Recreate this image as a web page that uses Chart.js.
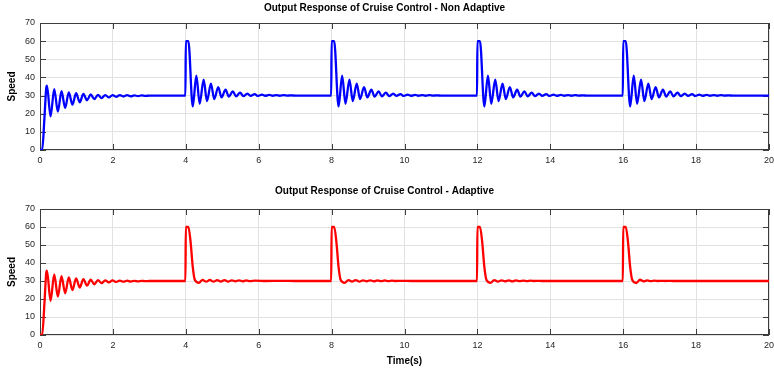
<!DOCTYPE html>
<html>
<head>
<meta charset="utf-8">
<title>Output Response of Cruise Control</title>
<script src="https://cdn.jsdelivr.net/npm/chart.js@4.4.0/dist/chart.umd.min.js"></script>
<style>
  body { margin: 0; background: #fff; }
  #wrap { position: relative; width: 774px; height: 372px; }
  canvas { position: absolute; left: 0; }
  #topChart { top: 0; }
  #bottomChart { top: 180px; }
</style>
</head>
<body>
<div id="wrap">
  <canvas id="topChart" width="774" height="175"></canvas>
  <canvas id="bottomChart" width="774" height="192"></canvas>
</div>
<script>
// --- data (time in s, speed) ---
const pulseStarts = [4, 8, 12, 16];

// start-up transient, same time grid for both responses
const startTime = [0, 0.06, 0.12, 0.17, 0.19, 0.29, 0.39, 0.49, 0.59, 0.69, 0.79, 0.89, 0.99, 1.09, 1.19, 1.29, 1.39, 1.49,
  1.59, 1.69, 1.79, 1.89, 1.99, 2.09, 2.19, 2.29, 2.39, 2.49, 2.59, 2.69, 2.79, 2.89, 3.0, 3.3, 3.6, 3.9];
const nonAdaptiveStart = [0, 0, 17, 34, 35.5, 18.5, 33.6, 21.2, 32.4, 23.2, 31.8, 25, 31.3, 26.3, 30.9, 27.4, 30.6, 28,
  30.4, 28.6, 30.3, 29, 30.3, 29.3, 30.2, 29.5, 30.2, 29.6, 30.1, 29.7, 30.1, 29.8, 30, 30, 30, 30];
const adaptiveStart = [0, 0, 17, 34.3, 35.8, 19, 33.6, 21.4, 32.7, 23.2, 32, 25, 31.4, 26.4, 31, 27.4, 30.7, 28.2,
  30.5, 28.8, 30.4, 29.2, 30.3, 29.5, 30.2, 29.6, 30.2, 29.7, 30.1, 29.8, 30.1, 29.9, 30, 30, 30, 30];

// response after each disturbance (time relative to the pulse)
const nonAdaptivePulseTime = [-0.01, 0, 0.07, 0.19, 0.29, 0.38, 0.49, 0.58, 0.69, 0.78, 0.89, 0.98, 1.09, 1.18, 1.29, 1.38,
  1.49, 1.58, 1.69, 1.78, 1.89, 1.98, 2.09, 2.18, 2.29, 2.38, 2.49, 2.58, 2.69, 2.78, 2.89, 3.0, 3.5, 3.9];
const nonAdaptivePulse = [30, 60, 60, 24, 41, 25.5, 38.8, 27, 36.6, 28, 34.7, 29, 33.2, 29.4, 32.3, 29.6,
  31.6, 29.7, 31.1, 29.8, 30.8, 29.8, 30.5, 29.9, 30.4, 29.9, 30.3, 29.9, 30.2, 30, 30.1, 30, 30, 30];

const adaptivePulseTime = [-0.01, 0, 0.07, 0.13, 0.19, 0.25, 0.36, 0.46, 0.56, 0.66, 0.76, 0.86, 0.96, 1.06, 1.16, 1.26,
  1.36, 1.46, 1.56, 1.66, 1.76, 1.9, 2.2, 2.6, 3.0, 3.4, 3.9];
const adaptivePulse4 = [30, 60, 60, 52, 38, 30.5, 29, 30.6, 29.6, 30.6, 29.6, 30.5, 29.7, 30.5, 29.7, 30.4,
  29.8, 30.4, 29.8, 30.3, 29.9, 30.2, 30, 30.1, 30, 30, 30];
const adaptivePulse8 = [30, 60, 60, 52, 38, 30.5, 29, 30.5, 29.7, 30.5, 29.7, 30.4, 29.8, 30.4, 29.8, 30.3,
  29.9, 30.3, 29.9, 30.2, 30, 30.1, 30, 30, 30, 30, 30];
const adaptivePulse12 = [30, 60, 60, 52, 38, 30.5, 29, 30.5, 29.7, 30.4, 29.8, 30.3, 29.8, 30.3, 29.9, 30.2,
  29.9, 30.2, 30, 30.1, 30, 30, 30, 30, 30, 30, 30];
const adaptivePulse16 = [30, 60, 60, 52, 38, 30.5, 28.9, 30.7, 29.8, 30.3, 29.9, 30.2, 30, 30.1, 30, 30.1,
  30, 30, 30, 30, 30, 30, 30, 30, 30, 30, 30];

const xTicks = { min: 0, max: 20, step: 2 };
const yTicks = { min: 0, max: 70, step: 10 };

const FONT = '"Liberation Sans", Arial, Helvetica, sans-serif';

// --- builds the {x, y} list for one response ---
function montarSerie(startV, pulseTime, pulses) {
  const pts = startTime.map((t, i) => ({ x: t, y: startV[i] }));
  pulseStarts.forEach((t0, k) => {
    pulseTime.forEach((dt, i) => pts.push({ x: t0 + dt, y: pulses[k][i] }));
  });
  pts.push({ x: xTicks.max, y: 30 });
  return pts;
}

// MATLAB-like box with inward ticks on all four sides
const boxPlugin = {
  id: 'matlabBox',
  beforeDatasetsDraw(chart) {
    const { ctx, chartArea: a, scales: { x, y } } = chart;
    ctx.save();
    ctx.strokeStyle = '#3c3c3c';
    ctx.lineWidth = 1;
    ctx.strokeRect(a.left + 0.5, a.top + 0.5, a.width - 1, a.height - 1);
    ctx.beginPath();
    x.ticks.forEach(t => {
      const px = Math.round(x.getPixelForValue(t.value)) + 0.5;
      ctx.moveTo(px, a.bottom); ctx.lineTo(px, a.bottom - 6);
      ctx.moveTo(px, a.top); ctx.lineTo(px, a.top + 6);
    });
    y.ticks.forEach(t => {
      const py = Math.round(y.getPixelForValue(t.value)) + 0.5;
      ctx.moveTo(a.left, py); ctx.lineTo(a.left + 6, py);
      ctx.moveTo(a.right, py); ctx.lineTo(a.right - 6, py);
    });
    ctx.stroke();
    ctx.restore();
  }
};

function opcoes(titulo, titlePad, xHeight, xTitle) {
  const tickFont = { family: FONT, size: 9 };
  return {
    responsive: false,
    animation: false,
    devicePixelRatio: 1,
    layout: { padding: { left: 0, right: 5, top: 0, bottom: 0 } },
    plugins: {
      legend: { display: false },
      tooltip: { enabled: false },
      title: {
        display: true, text: titulo, color: '#000',
        font: { family: FONT, size: 10, weight: 'bold' },
        padding: titlePad
      }
    },
    scales: {
      x: {
        type: 'linear', min: xTicks.min, max: xTicks.max,
        ticks: { stepSize: xTicks.step, padding: 5, color: '#262626', font: tickFont, maxRotation: 0 },
        grid: { color: '#e2e2e2', drawTicks: false },
        border: { display: false },
        title: {
          display: !!xTitle, text: xTitle || '', color: '#000',
          font: { family: FONT, size: 10, weight: 'bold' },
          padding: { top: 0, bottom: 5 }
        },
        afterFit: s => { s.height = xHeight; s.paddingLeft = 0; s.paddingRight = 0; }
      },
      y: {
        min: yTicks.min, max: yTicks.max,
        ticks: { stepSize: yTicks.step, padding: 5, color: '#262626', font: tickFont },
        grid: { color: '#e2e2e2', drawTicks: false },
        border: { display: false },
        title: {
          display: true, text: 'Speed', color: '#000',
          font: { family: FONT, size: 10, weight: 'bold' },
          padding: { top: 6, bottom: 0 }
        },
        afterFit: s => { s.width = 40; s.paddingTop = 0; s.paddingBottom = 0; }
      }
    }
  };
}

function linha(pontos, cor) {
  return {
    data: pontos,
    borderColor: cor,
    borderWidth: 2.3,
    pointRadius: 0,
    fill: false,
    cubicInterpolationMode: 'monotone'
  };
}

new Chart(document.getElementById('topChart'), {
  type: 'line',
  data: {
    datasets: [linha(montarSerie(nonAdaptiveStart, nonAdaptivePulseTime,
      [nonAdaptivePulse, nonAdaptivePulse, nonAdaptivePulse, nonAdaptivePulse]), '#0000ff')]
  },
  options: opcoes('Output Response of Cruise Control - Non Adaptive', { top: 2, bottom: 9 }, 25, null),
  plugins: [boxPlugin]
});

new Chart(document.getElementById('bottomChart'), {
  type: 'line',
  data: {
    datasets: [linha(montarSerie(adaptiveStart, adaptivePulseTime,
      [adaptivePulse4, adaptivePulse8, adaptivePulse12, adaptivePulse16]), '#ff0000')]
  },
  options: opcoes('Output Response of Cruise Control - Adaptive', { top: 5, bottom: 12 }, 37, 'Time(s)'),
  plugins: [boxPlugin]
});
</script>
</body>
</html>
